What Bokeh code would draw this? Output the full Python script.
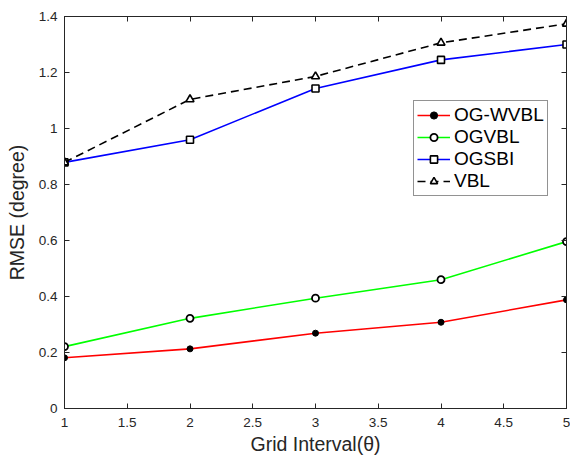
from bokeh.plotting import figure
from bokeh.models import LinearAxis, Range1d, FixedTicker, Legend, LegendItem
from bokeh.embed import file_html
from bokeh.resources import INLINE

x = [1, 2, 3, 4, 5]
og_wvbl = [0.181, 0.213, 0.269, 0.308, 0.388]
ogvbl = [0.221, 0.322, 0.394, 0.460, 0.596]
ogsbi = [0.879, 0.960, 1.143, 1.245, 1.300]
vbl = [0.879, 1.104, 1.186, 1.306, 1.374]
xticks = [1, 1.5, 2, 2.5, 3, 3.5, 4, 4.5, 5]
yticks = [0, 0.2, 0.4, 0.6, 0.8, 1.0, 1.2, 1.4]

FONT = "Liberation Sans"
p = figure(width=570, height=463, output_backend="svg", toolbar_location=None,
           x_range=Range1d(1, 5), y_range=Range1d(0, 1.4),
           min_border_left=64, min_border_right=4, min_border_top=16, min_border_bottom=55)
p.xgrid.visible = False
p.ygrid.visible = False
p.outline_line_color = "#262626"
p.outline_line_width = 1

for ax in [p.xaxis[0], p.yaxis[0]]:
    ax.major_tick_in = 5
    ax.major_tick_out = 0
    ax.minor_tick_line_color = None
    ax.axis_line_color = "#262626"
    ax.major_tick_line_color = "#262626"
    ax.major_label_text_font = FONT
    ax.major_label_text_font_size = "13.5px"
    ax.major_label_text_color = "#262626"
    ax.axis_label_text_font = FONT
    ax.axis_label_text_font_size = "19.5px"
    ax.axis_label_text_font_style = "normal"
    ax.axis_label_text_color = "#262626"

p.xaxis[0].ticker = FixedTicker(ticks=xticks)
p.yaxis[0].ticker = FixedTicker(ticks=yticks)
p.xaxis[0].major_label_overrides = {1: "1", 2: "2", 3: "3", 4: "4", 5: "5"}
p.yaxis[0].major_label_overrides = {0: "0", 1: "1"}
p.xaxis[0].axis_label = "Grid Interval(θ)"
p.yaxis[0].axis_label = "RMSE (degree)"
p.xaxis[0].major_label_standoff = 9
p.yaxis[0].major_label_standoff = 7
p.xaxis[0].axis_label_standoff = 3
p.yaxis[0].axis_label_standoff = 8

top = LinearAxis(ticker=FixedTicker(ticks=xticks),
                 major_label_overrides={t: "" for t in xticks},
                 major_tick_in=5, major_tick_out=0, minor_tick_line_color=None,
                 axis_line_color="#262626", major_tick_line_color="#262626",
                 major_label_standoff=0)
right = LinearAxis(ticker=FixedTicker(ticks=yticks),
                   major_label_overrides={t: "" for t in yticks},
                   major_tick_in=5, major_tick_out=0, minor_tick_line_color=None,
                   axis_line_color="#262626", major_tick_line_color="#262626",
                   major_label_standoff=0)
p.add_layout(top, "above")
p.add_layout(right, "right")

items = []
l1 = p.line(x, og_wvbl, line_color="red", line_width=1.6)
m1 = p.scatter(x, og_wvbl, marker="circle", size=6, fill_color="black", line_color="black")
items.append(LegendItem(label="OG-WVBL", renderers=[l1, m1]))
l2 = p.line(x, ogvbl, line_color="#00ff00", line_width=1.6)
m2 = p.scatter(x, ogvbl, marker="circle", size=7, fill_color="white", line_color="black", line_width=1.8)
items.append(LegendItem(label="OGVBL", renderers=[l2, m2]))
l3 = p.line(x, ogsbi, line_color="blue", line_width=1.6)
m3 = p.scatter(x, ogsbi, marker="square", size=7, fill_color="white", line_color="black", line_width=1.6)
items.append(LegendItem(label="OGSBI", renderers=[l3, m3]))
l4 = p.line(x, vbl, line_color="black", line_width=1.6, line_dash="8 5")
m4 = p.scatter(x, vbl, marker="triangle", size=8, fill_color="white", line_color="black", line_width=1.6)
items.append(LegendItem(label="VBL", renderers=[l4, m4]))

leg = Legend(items=items, location=(349, 212), label_text_font=FONT,
             label_text_font_size="19px", label_text_color="black",
             glyph_width=33, glyph_height=18, label_standoff=4, spacing=0,
             padding=3, margin=0, border_line_color="#262626", border_line_width=1,
             background_fill_alpha=1, label_height=18)
p.add_layout(leg, "center")

open("out.html", "w").write(file_html(p, INLINE))
